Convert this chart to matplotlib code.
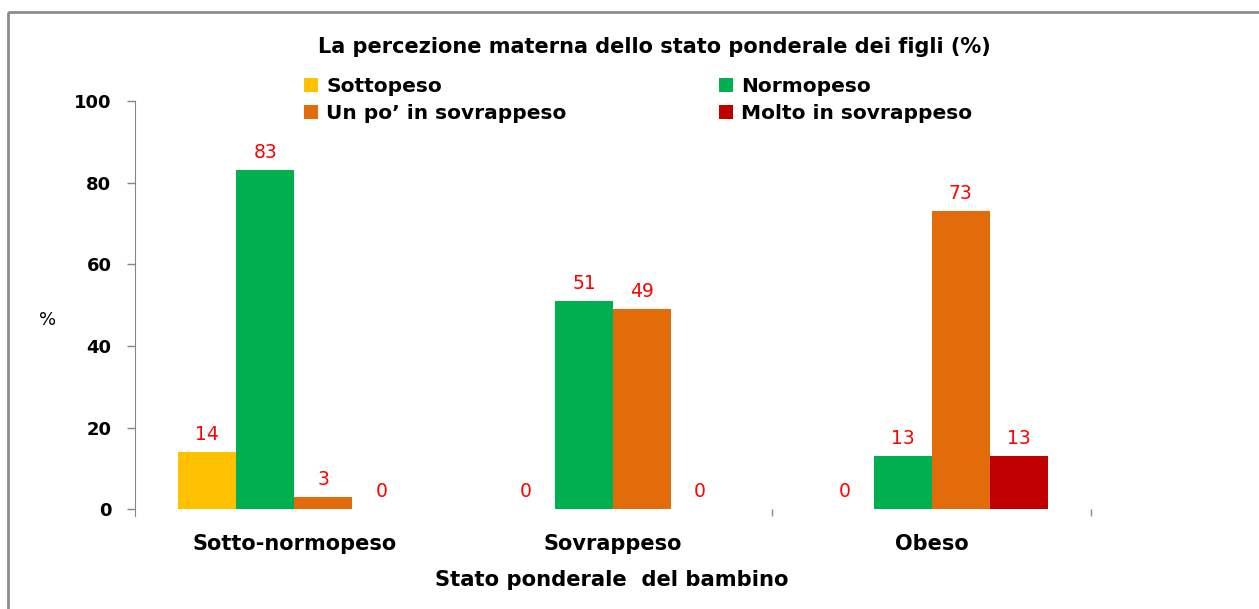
import matplotlib
matplotlib.use("Agg")
import matplotlib.pyplot as plt
from matplotlib.patches import Rectangle
import numpy as np

# dati
categorie = ["Sotto-normopeso", "Sovrappeso", "Obeso"]
serie = ["Sottopeso", "Normopeso", "Un po\u2019 in sovrappeso", "Molto in sovrappeso"]
sottopeso = [14, 0, 0]
normopeso = [83, 51, 13]
un_po = [3, 49, 73]
molto = [0, 0, 13]
colori = ["#FFC000", "#00B050", "#E36C0A", "#C00000"]

W, H = 1259, 609
fig = plt.figure(figsize=(W / 100, H / 100), dpi=100)


def px(x, y):
    # pixel -> frazione della figura
    return x / W, 1 - y / H


# cornice grigia (esce a destra e in basso)
fig.patches.append(Rectangle(px(8, 12), 1.2, -1.2, transform=fig.transFigure,
                             fill=False, edgecolor="#8c8c8c", linewidth=2))

ax = fig.add_axes([135 / W, 1 - 516 / H, (1091 - 135) / W, (516 - 101) / H])

x = np.arange(len(categorie))
w = 0.182
valori = [sottopeso, normopeso, un_po, molto]
barre = []
for i, (nome, v, c) in enumerate(zip(serie, valori, colori)):
    b = ax.bar(x + (i - 1.5) * w, v, w, color=c, label=nome, zorder=2)
    barre.append(b)
    for xi, vi in zip(x + (i - 1.5) * w, v):
        ax.annotate(str(vi), (xi, vi), xytext=(0, 13), textcoords="offset points",
                    ha="center", va="center", color="#FF0000", fontsize=13.5,
                    family="DejaVu Sans")

ax.set_xlim(-0.5, 2.5)
ax.set_ylim(-1.6, 100)
ax.set_yticks(range(0, 101, 20))
ax.set_yticklabels([str(t) for t in range(0, 101, 20)], fontsize=13,
                   fontweight="bold", family="DejaVu Sans")
ax.tick_params(axis="y", length=6, width=1, color="#868686", pad=11)

ax.set_xticks(x)
ax.set_xticklabels(categorie, fontsize=15, fontweight="bold", family="DejaVu Sans")
ax.tick_params(axis="x", which="major", length=0, pad=13)
ax.set_xticks([1.5, 2.5], minor=True)
ax.tick_params(axis="x", which="minor", length=5, width=1, color="#868686",
               direction="in")

for s in ["top", "right", "bottom"]:
    ax.spines[s].set_visible(False)
ax.spines["left"].set_color("#868686")

fig.text(*px(654, 53), "La percezione materna dello stato ponderale dei figli (%)",
         ha="center", va="baseline", fontsize=15, fontweight="bold",
         family="DejaVu Sans")
fig.text(*px(612, 580), "Stato ponderale  del bambino", ha="center", va="center",
         fontsize=15.2, fontweight="bold", family="DejaVu Sans")
fig.text(*px(48, 320), "%", ha="center", va="center", fontsize=13,
         family="DejaVu Sans")

ordine = [0, 2, 1, 3]
fig.legend([barre[i] for i in ordine], [serie[i] for i in ordine], ncol=2,
           loc="upper left", bbox_to_anchor=px(296, 69), frameon=False,
           prop={"family": "DejaVu Sans", "weight": "bold", "size": 14.5},
           handlelength=0.7, handleheight=0.7, handletextpad=0.4,
           columnspacing=7.55, labelspacing=0.4, borderaxespad=0)

fig.savefig("out.png", dpi=100)
